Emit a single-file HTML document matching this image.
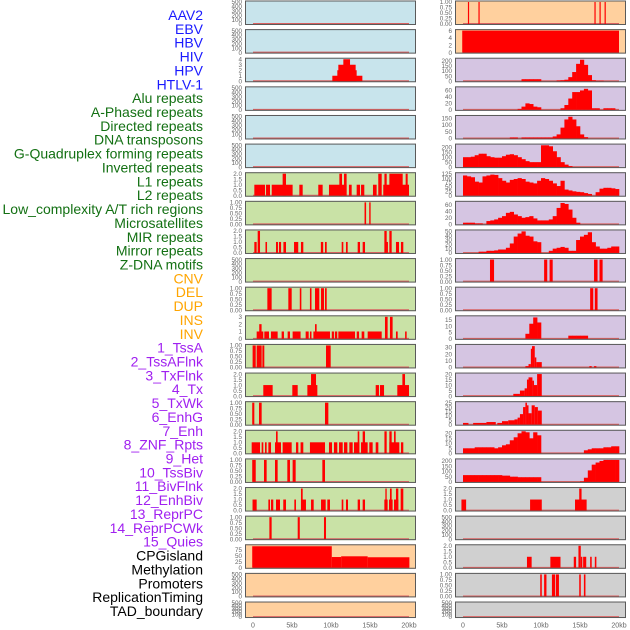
<!DOCTYPE html>
<html><head><meta charset="utf-8"><style>
html,body{margin:0;padding:0;background:#fff;}
svg{display:block;font-family:"Liberation Sans",sans-serif;}
</style></head><body>
<svg id="chart" width="630" height="630" viewBox="0 0 630 630"></svg>
<script>
// ---- labels ----
const trackLabels = ["AAV2","EBV","HBV","HIV","HPV","HTLV-1","Alu repeats","A-Phased repeats","Directed repeats","DNA transposons","G-Quadruplex forming repeats","Inverted repeats","L1 repeats","L2 repeats","Low_complexity A/T rich regions","Microsatellites","MIR repeats","Mirror repeats","Z-DNA motifs","CNV","DEL","DUP","INS","INV","1_TssA","2_TssAFlnk","3_TxFlnk","4_Tx","5_TxWk","6_EnhG","7_Enh","8_ZNF_Rpts","9_Het","10_TssBiv","11_BivFlnk","12_EnhBiv","13_ReprPC","14_ReprPCWk","15_Quies","CPGisland","Methylation","Promoters","ReplicationTiming","TAD_boundary"];
const labelGroups = [6,13,5,15,5];
const xTickLabels = ["0","5kb","10kb","15kb","20kb"];
const xTickValues = [0,5,10,15,20];
// ---- tick sets ----
const t500=["0","100","200","300","400","500"], t500v=[0,100,200,300,400,500];
const t1=["0.00","0.25","0.50","0.75","1.00"], t1v=[0,0.25,0.5,0.75,1];
const t2=["0.0","0.5","1.0","1.5","2.0"], t2v=[0,0.5,1,1.5,2];
// ---- left column data (segments: startKb, endKb, value) ----
const hivSegs=[[10.17,14.02,1],[10.81,13.29,2],[10.94,13.16,3],[11.58,12.44,4]];
const invertedSegs=[[0.17,1.54,1],[1.67,2.18,1],[2.4,5.08,1],[3.8,4.23,2],[5.94,6.37,1],[8.37,8.93,1],[9.74,12.0,1],[11.07,11.41,2],[11.67,12.0,2],[12.3,12.65,1],[13.29,13.72,1],[13.85,14.27,1],[15.38,15.85,1],[16.06,16.5,2],[16.7,20.0,1],[16.85,17.14,2],[17.48,19.19,2],[19.57,19.83,2]];
const l2Segs=[[14.3,14.5,1],[14.9,15.08,1]];
const microSegs=[[0.17,0.47,1],[0.6,0.9,2],[1.6,1.8,1],[2.95,3.2,1],[3.33,3.6,1],[3.9,4.23,1],[5.26,5.8,1],[6.15,6.45,1],[8.7,9.0,1],[9.23,9.45,1],[11.37,11.58,1],[11.92,12.14,1],[13.42,13.72,1],[14.06,14.36,1],[16.84,17.14,2],[17.12,17.3,1],[17.48,17.78,2],[18.33,18.72,1],[18.97,19.27,1]];
const cnvSegs=[[1.84,2.39,1],[4.53,4.96,1],[6.0,6.2,1],[7.3,7.5,1],[7.95,8.5,1],[8.72,9.1,1],[9.23,9.45,1]];
const insSegs=[[0.47,1.32,1],[0.8,1.1,2],[1.45,2.05,1],[2.3,3.16,1],[3.67,3.97,1],[4.44,4.74,1],[5.08,6.1,1],[6.75,7.14,1],[7.3,7.5,1],[7.74,9.87,1],[7.95,8.16,2],[10.1,10.38,1],[10.5,10.8,1],[10.94,13.08,1],[13.3,13.6,1],[13.93,14.27,1],[14.7,16.5,1],[16.92,17.26,3],[17.56,17.9,3],[18.33,18.55,1],[19.5,19.7,1]];
const invSegs=[[-0.05,0.35,1],[0.47,1.11,1],[1.2,1.45,1],[9.36,9.96,1]];
const s13Left=[[1.32,2.52,1],[5.04,5.73,1],[6.97,8.25,1],[7.44,8.08,2],[15.73,16.15,1],[16.28,16.8,1],[18.5,20.0,1],[19.15,19.49,2]];
const s14Left=[[-0.1,0.17,1],[0.77,1.11,1],[9.23,9.66,1]];
const s15Left=[[-0.17,0.9,1],[1.11,1.32,1],[1.54,1.75,1],[1.97,2.31,1],[2.82,3.59,1],[2.95,3.16,2],[3.8,4.96,1],[5.51,5.81,1],[6.1,6.45,1],[7.3,9.23,1],[9.74,10.13,1],[10.38,10.81,1],[11.03,11.5,1],[11.67,12.1,1],[12.35,12.78,1],[12.95,13.63,1],[13.42,13.63,2],[13.85,14.7,1],[14.06,14.36,2],[14.91,15.34,1],[15.73,16.07,1],[16.85,17.14,2],[17.48,18.76,1],[17.48,17.78,2],[18.08,18.29,2],[18.97,19.27,1]];
const s16Left=[[-0.1,0.35,1],[1.41,1.75,1],[2.82,3.16,1],[4.4,4.74,1],[5.08,5.47,1],[8.89,9.23,1]];
const s17Left=[[-0.06,0.47,1],[1.97,2.18,1],[2.31,2.6,1],[2.95,3.46,1],[3.88,4.23,1],[5.3,5.51,1],[6.15,6.79,1],[6.15,6.37,2],[7.44,7.78,1],[8.72,9.32,1],[9.53,9.87,1],[11.37,11.58,1],[11.92,12.18,1],[13.42,13.72,1],[14.06,14.36,1],[16.84,17.26,1],[16.97,17.14,2],[17.44,17.9,1],[17.56,17.78,2],[18.08,18.63,1],[18.33,18.63,2],[18.93,19.27,2]];
const s18Left=[[2.1,2.39,1],[5.73,6.0,1],[9.1,9.36,1]];
const cpgSegs=[[-0.1,10.1,90],[10.1,11.3,45],[11.3,14.7,48],[14.7,20.05,44]];
// ---- right column data ----
const r0Segs=[[0.63,0.78,1],[1.98,2.13,1],[16.85,17.0,1],[17.5,17.65,1],[18.15,18.3,1]];
const r1Segs=[[-0.1,20.0,6]];
// 0.5kb bins (40 per track)
const hpvBins=[0,0,0,0,0,0,0,0,0,0,0,0,0,0,0,20,20,20,20,20,0,0,0,0,8,10,15,40,90,170,210,160,60,10,5,5,0,0,0,0];
const aluBins=[0,0,0,0,0,0,0,0,0,0,0,0,0,0,3,10,20,18,10,8,0,0,0,0,0,5,15,35,55,55,60,65,60,5,5,0,5,5,5,0];
const directedBins=[0,0,0,0,0,0,0,0,0,0,0,0,8,8,0,8,8,8,8,8,8,8,8,15,30,80,140,160,140,90,30,10,0,0,0,0,0,0,0,0];
const dnaBins=[100,100,105,120,135,135,110,100,95,95,110,125,130,120,100,80,60,50,50,50,220,220,210,160,100,50,25,10,0,0,0,0,0,0,0,0,0,0,0,0];
const l1Bins=[115,110,105,80,75,110,115,120,118,100,85,75,90,95,100,95,80,75,70,85,100,95,85,70,55,85,35,30,25,22,20,15,10,0,20,40,45,45,42,38];
const lowcBins=[5,5,5,3,3,0,10,12,15,20,25,35,38,30,25,20,22,25,18,12,12,12,15,25,50,65,62,45,20,5,0,0,0,0,0,0,0,0,0,0];
const mirBins=[0,0,0,0,3,3,5,5,6,8,8,12,22,38,45,50,40,38,27,25,0,0,5,10,12,14,12,5,5,30,38,42,48,25,15,10,10,12,15,15];
const zdnaSegs=[[3.46,3.98,1],[10.4,10.8,1],[11.1,11.5,1],[16.8,17.25,1],[17.5,17.9,1]];
const delSegs=[[16.3,16.7,1],[16.9,17.25,1]];
const insRightBins=[0,0,0,0,0,0,0,0,0,0,0,0,0,0,0,0,4,12,17,13,0,0,0,0,0,0,0,2.5,2.5,2.5,2.5,2.5,0,0,0,0,0,0,0,0];
const r12Segs=[[8.0,8.4,2],[8.4,8.7,5],[8.7,8.85,28],[8.85,9.2,32],[9.2,9.4,15],[9.4,10.1,8],[16.2,16.5,2],[16.8,17.1,2]];
const r13Segs=[[6.45,7.3,2],[7.3,7.9,5],[7.9,8.2,7],[8.2,8.4,15],[8.4,8.9,17],[8.9,9.1,14],[9.1,9.5,10],[9.5,10.1,20]];
const r14Segs=[[0,0.7,2],[1.3,3.0,2],[3.0,4.2,3],[4.4,5.0,2],[5.0,5.8,4],[5.8,6.6,5],[6.6,7.0,6],[7.0,7.3,8],[7.3,7.7,12],[7.7,8.0,20],[8.0,8.2,25],[8.2,8.4,22],[8.4,8.8,13],[8.8,9.2,22],[9.2,9.6,20],[9.6,10.1,16]];
const r15Bins=[5,5,5,6,6,6,6,6,5,6,8,9,13,16,20,22,21,15,21,18,0,0,0,0,0,0,0,0,0,0,0,3,4,5,5,5,6,6,7,7];
const r16Bins=[65,65,65,65,65,65,65,65,65,65,60,60,50,50,45,45,45,45,45,45,0,0,0,0,0,0,0,0,0,0,5,40,110,165,185,200,210,210,210,210];
const r17Segs=[[-0.2,0.4,1],[8.6,10.1,1],[14.36,15.85,1],[14.9,15.2,2]];
const r19Segs=[[8.2,8.8,1],[11.2,12.5,1],[14.2,14.5,1],[14.8,15.1,2],[15.1,15.3,1],[15.4,15.8,1],[16.3,16.5,1],[16.9,17.1,1]];
const r20Segs=[[9.9,10.1,1],[10.4,10.7,1],[11.4,11.8,1],[11.9,12.3,1],[14.9,15.1,1],[15.5,15.7,1]];

const BLUE="#c8e4ec",GREEN="#c9e2a6",ORANGE="#ffd09e",LAV="#d5c5e2",GRAY="#d0d0d0";
const leftTracks=[
 {bg:BLUE,t:t500,tv:t500v,ymax:500,segs:[]},
 {bg:BLUE,t:t500,tv:t500v,ymax:500,segs:[]},
 {bg:BLUE,t:["0","1","2","3","4"],tv:[0,1,2,3,4],ymax:4,segs:hivSegs},
 {bg:BLUE,t:t500,tv:t500v,ymax:500,segs:[]},
 {bg:BLUE,t:t500,tv:t500v,ymax:500,segs:[]},
 {bg:BLUE,t:t500,tv:t500v,ymax:500,segs:[]},
 {bg:GREEN,t:t2,tv:t2v,ymax:2,segs:invertedSegs},
 {bg:GREEN,t:t1,tv:t1v,ymax:1,segs:l2Segs},
 {bg:GREEN,t:t2,tv:t2v,ymax:2,segs:microSegs},
 {bg:GREEN,t:t500,tv:t500v,ymax:500,segs:[]},
 {bg:GREEN,t:t1,tv:t1v,ymax:1,segs:cnvSegs},
 {bg:GREEN,t:["0","1","2","3"],tv:[0,1,2,3],ymax:3,segs:insSegs},
 {bg:GREEN,t:t1,tv:t1v,ymax:1,segs:invSegs},
 {bg:GREEN,t:t2,tv:t2v,ymax:2,segs:s13Left},
 {bg:GREEN,t:t1,tv:t1v,ymax:1,segs:s14Left},
 {bg:GREEN,t:t2,tv:t2v,ymax:2,segs:s15Left},
 {bg:GREEN,t:t1,tv:t1v,ymax:1,segs:s16Left},
 {bg:GREEN,t:t2,tv:t2v,ymax:2,segs:s17Left},
 {bg:GREEN,t:t1,tv:t1v,ymax:1,segs:s18Left},
 {bg:ORANGE,t:["0","25","50","75"],tv:[0,25,50,75],ymax:92,segs:cpgSegs},
 {bg:ORANGE,t:t500,tv:t500v,ymax:500,segs:[]},
 {bg:ORANGE,t:t500,tv:t500v,ymax:500,segs:[]}
];
const rightTracks=[
 {bg:ORANGE,t:t1,tv:t1v,ymax:1,segs:r0Segs},
 {bg:ORANGE,t:["0","2","4","6"],tv:[0,2,4,6],ymax:6,segs:r1Segs},
 {bg:LAV,t:["0","50","100","150","200"],tv:[0,50,100,150,200],ymax:215,bins:hpvBins},
 {bg:LAV,t:["0","20","40","60"],tv:[0,20,40,60],ymax:68,bins:aluBins},
 {bg:LAV,t:["0","50","100","150"],tv:[0,50,100,150],ymax:162,bins:directedBins},
 {bg:LAV,t:["0","50","100","150","200"],tv:[0,50,100,150,200],ymax:222,bins:dnaBins},
 {bg:LAV,t:["0","25","50","75","100","125"],tv:[0,25,50,75,100,125],ymax:125,bins:l1Bins},
 {bg:LAV,t:["0","20","40","60"],tv:[0,20,40,60],ymax:67,bins:lowcBins},
 {bg:LAV,t:["0","10","20","30","40","50"],tv:[0,10,20,30,40,50],ymax:51,bins:mirBins},
 {bg:LAV,t:t1,tv:t1v,ymax:1,segs:zdnaSegs},
 {bg:LAV,t:t1,tv:t1v,ymax:1,segs:delSegs},
 {bg:LAV,t:["0","5","10","15"],tv:[0,5,10,15],ymax:17.5,bins:insRightBins},
 {bg:LAV,t:["0","10","20","30"],tv:[0,10,20,30],ymax:33,segs:r12Segs},
 {bg:LAV,t:["0","5","10","15","20"],tv:[0,5,10,15,20],ymax:20,segs:r13Segs},
 {bg:LAV,t:["0","5","10","15","20","25"],tv:[0,5,10,15,20,25],ymax:25,segs:r14Segs},
 {bg:LAV,t:["0","5","10","15","20"],tv:[0,5,10,15,20],ymax:22,bins:r15Bins},
 {bg:LAV,t:["0","50","100","150","200"],tv:[0,50,100,150,200],ymax:210,bins:r16Bins},
 {bg:GRAY,t:t2,tv:t2v,ymax:2,segs:r17Segs},
 {bg:GRAY,t:t500,tv:t500v,ymax:500,segs:[]},
 {bg:GRAY,t:t2,tv:t2v,ymax:2,segs:r19Segs},
 {bg:GRAY,t:t1,tv:t1v,ymax:1,segs:r20Segs},
 {bg:GRAY,t:t500,tv:t500v,ymax:500,segs:[]}
];

const NS="http://www.w3.org/2000/svg";
const svg=document.getElementById('chart');
function mk(tag,attrs,parent){const e=document.createElementNS(NS,tag);for(const k in attrs)e.setAttribute(k,attrs[k]);(parent||svg).appendChild(e);return e;}

// labels
const groupColors=["#1a1aff","#137013","#ffa500","#a020f0","#000000"];
let gi=0,gc=0;
trackLabels.forEach((lab,i)=>{
  while(gc>=labelGroups[gi]){gi++;gc=0;}
  gc++;
  const t=mk('text',{x:203,y:20+i*13.86,'text-anchor':'end','font-size':'14',fill:groupColors[gi]});
  t.textContent=lab;
  
  
});

function panelTop(i){return i*28.62+0.5;}
function panelH(i){return i===21?16.5:24.5;}

function drawColumn(tracks,left,colName){
  const W=171, x0=left+8, kbW=7.8;
  const xs=kb=>x0+kb*kbW;
  tracks.forEach((tr,i)=>{
    const T=panelTop(i),H=panelH(i);
    const g=mk('g',{});
    
    
    mk('rect',{x:left,y:T,width:W,height:H,fill:tr.bg},g);
    const ys=v=>T+H-1-(v/tr.ymax)*(H-2.5);
    // baseline
    mk('line',{x1:xs(0),x2:xs(20),y1:T+H-1.3,y2:T+H-1.3,stroke:'#d96060','stroke-width':1.3},g);
    if(tr.bins){
      tr.bins.forEach((v,b)=>{
        if(v<=0)return;
        const r=mk('rect',{x:xs(b*0.5),y:ys(v),width:kbW*0.5+0.3,height:T+H-1-ys(v),fill:'#ff0000'},g);
        
        
      });
    }
    if(tr.segs){
      tr.segs.forEach(s=>{
        const x1=xs(s[0]),x2=xs(s[1]);
        const r=mk('rect',{x:x1,y:ys(s[2]),width:Math.max(1.2,x2-x1),height:T+H-1-ys(s[2]),fill:'#ff0000'},g);
        
        
      });
    }
    mk('rect',{x:left+0.5,y:T+0.5,width:W-1,height:H-1,fill:'none',stroke:'#5a5a5a','stroke-width':1},g);
    tr.t.forEach((lab,k)=>{
      const tx=mk('text',{x:left-3,y:ys(tr.tv[k])+2.2,'text-anchor':'end','font-size':'6.3',fill:'#666'},g);
      tx.textContent=lab;
      
      
    });
  });
  xTickValues.forEach((v,k)=>{
    const tx=mk('text',{x:xs(v),y:627.5,'text-anchor':'middle','font-size':'7',fill:'#666'});
    tx.textContent=xTickLabels[k];
    
    
  });
}
drawColumn(leftTracks,245,'left');
drawColumn(rightTracks,455,'right');
</script>
</body></html>
